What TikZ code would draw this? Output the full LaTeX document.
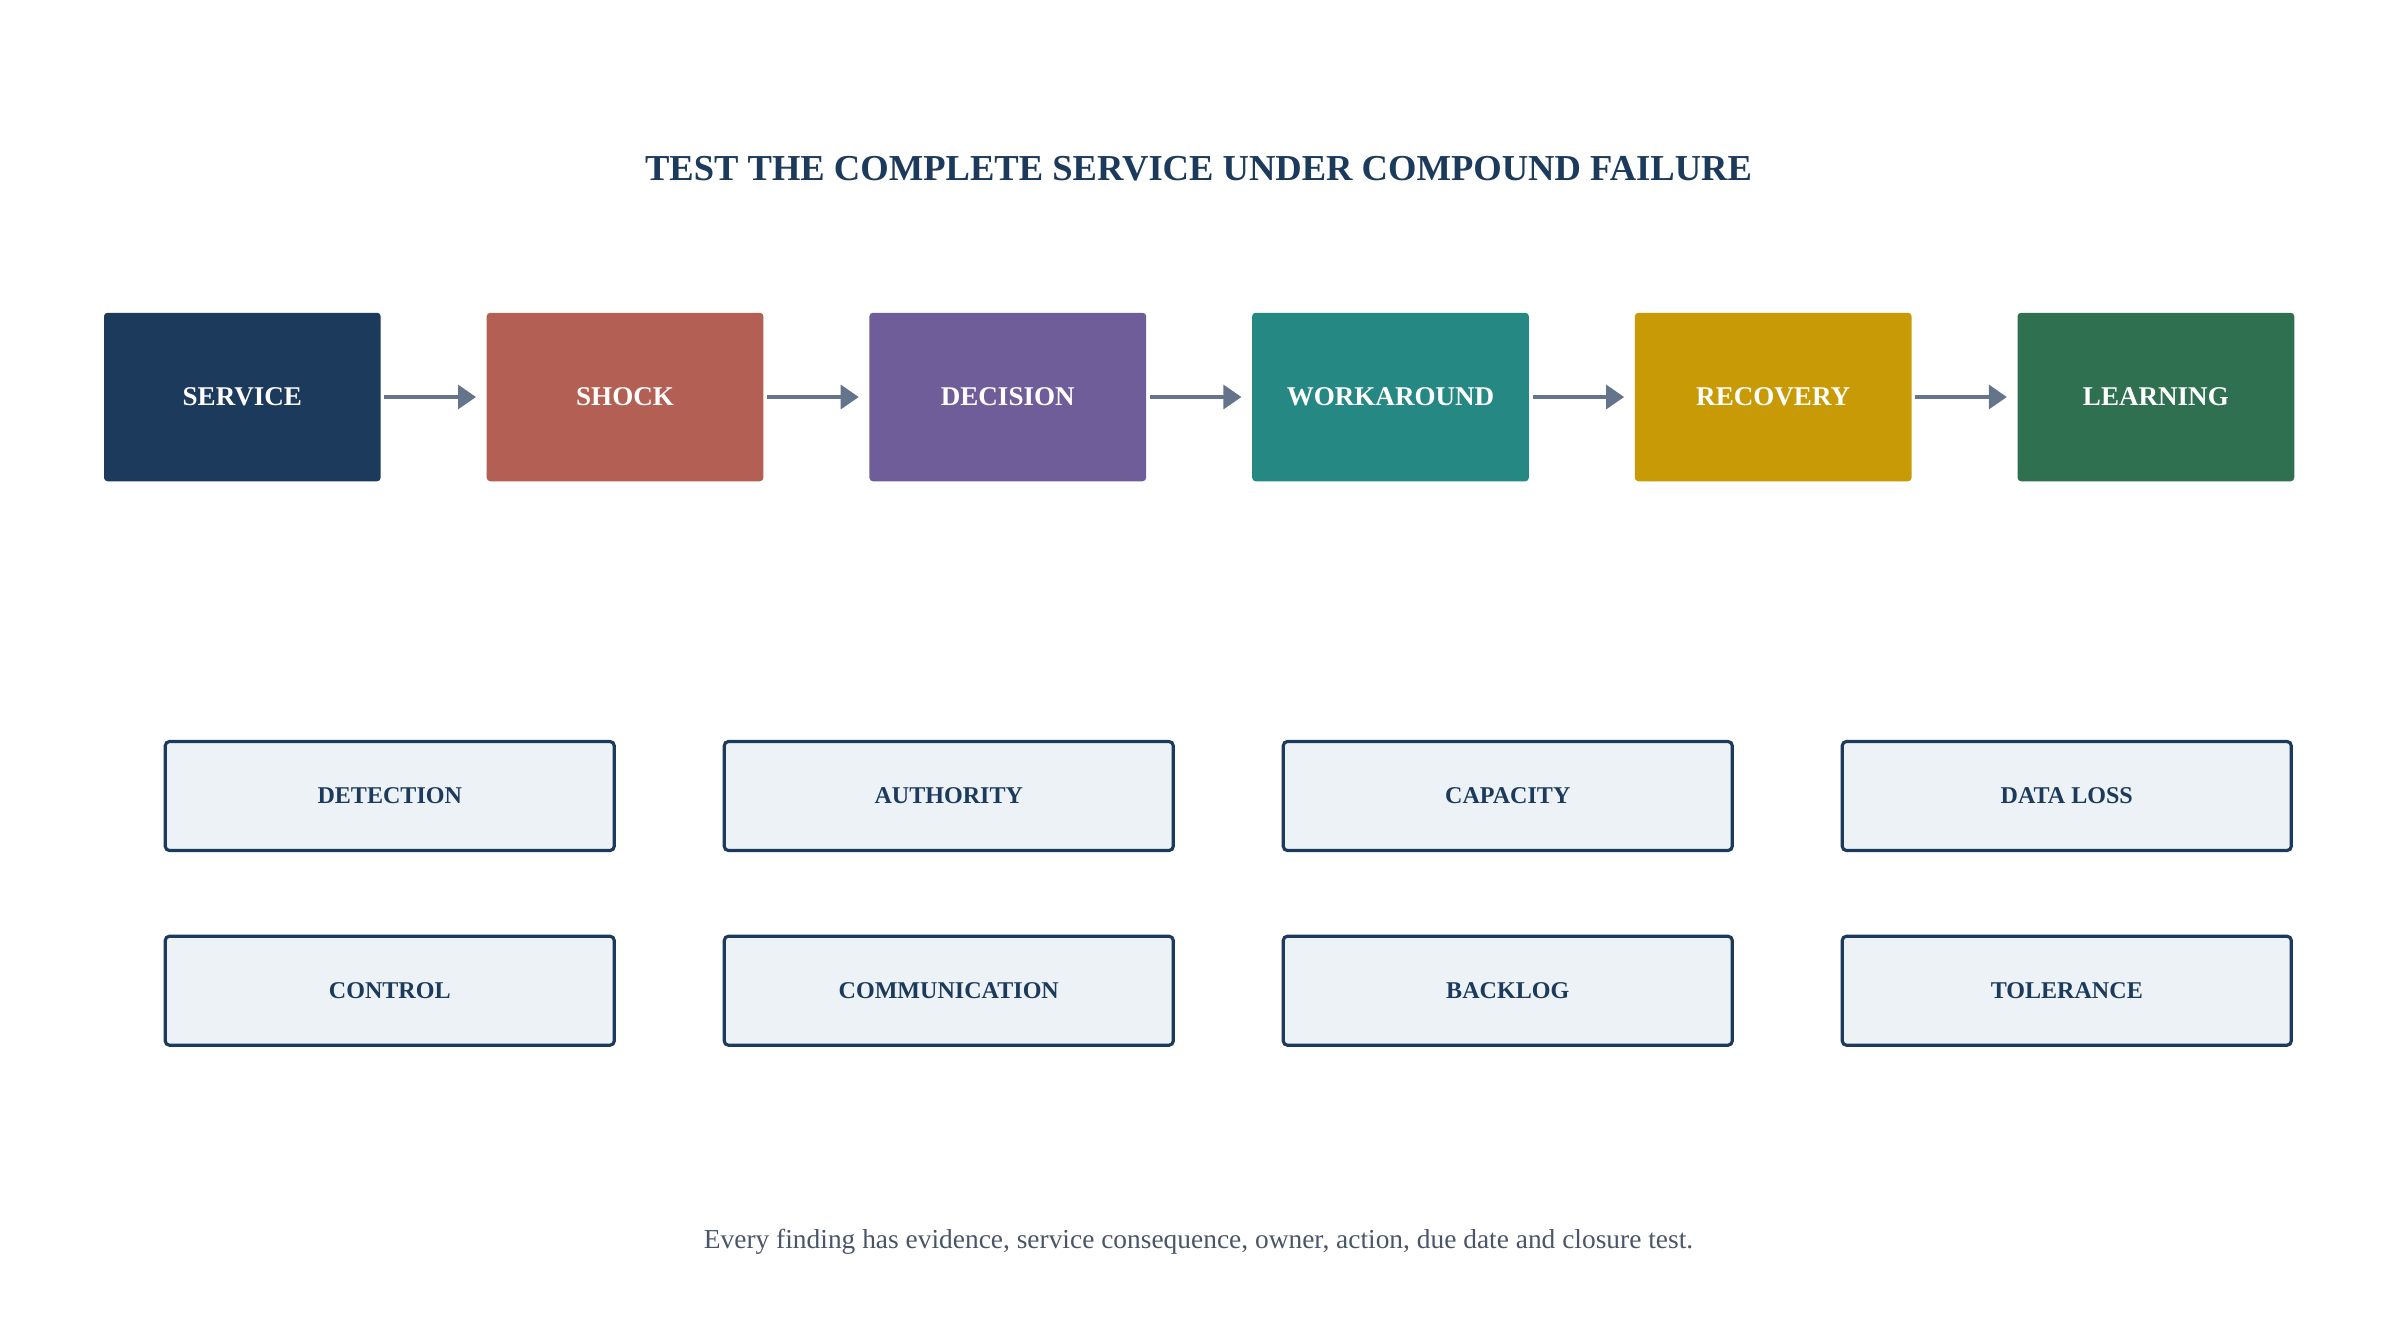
\documentclass[tikz,border=0pt]{standalone}
\usepackage{fontspec}
\setmainfont{Liberation Serif}
\usepackage{tikz}
\usetikzlibrary{arrows.meta, positioning}
\definecolor{navyMain}{HTML}{1B3A5C}
\definecolor{shockRed}{HTML}{B35F53}
\definecolor{decisionPurple}{HTML}{6F5D9A}
\definecolor{workTeal}{HTML}{258882}
\definecolor{recoveryGold}{HTML}{C89A06}
\definecolor{learnGreen}{HTML}{2E7050}
\definecolor{arrowSlate}{HTML}{64748B}
\definecolor{cardBg}{HTML}{EDF2F7}
\definecolor{footGray}{HTML}{4A5568}

\begin{document}
\begin{tikzpicture}[
    stage/.style={
        rounded corners=1pt, minimum width=2.767cm, minimum height=1.685cm,
        inner sep=0pt, text=white, font=\fontsize{7.7}{9}\selectfont\bfseries
    },
    card/.style={
        draw=navyMain, line width=0.9pt, rounded corners=1.2pt, fill=cardBg,
        minimum width=4.49cm, minimum height=1.09cm, inner sep=0pt,
        text=navyMain, font=\fontsize{6.85}{8}\selectfont\bfseries
    },
    flow/.style={draw=arrowSlate, line width=0.9pt,
        -{Triangle[length=0.18cm, width=0.24cm]},
        shorten <=0.03cm, shorten >=0.1cm},
    node distance=1.046cm,
]
    \useasboundingbox (0,0) rectangle (23.97,-13.42);

    % title
    \node[text=navyMain, font=\fontsize{10.4}{12}\selectfont\bfseries] (title) at (11.985,-1.685)
        {TEST THE COMPLETE SERVICE UNDER COMPOUND FAILURE};

    % chain of stages
    \node[stage, fill=navyMain] (service) at (2.4235,-3.97) {SERVICE};
    \node[stage, fill=shockRed, right=of service] (shock) {SHOCK};
    \node[stage, fill=decisionPurple, right=of shock] (decision) {DECISION};
    \node[stage, fill=workTeal, right=of decision] (workaround) {WORKAROUND};
    \node[stage, fill=recoveryGold, right=of workaround] (recovery) {RECOVERY};
    \node[stage, fill=learnGreen, right=of recovery] (learning) {LEARNING};

    \draw[flow] (service) -- (shock);
    \draw[flow] (shock) -- (decision);
    \draw[flow] (decision) -- (workaround);
    \draw[flow] (workaround) -- (recovery);
    \draw[flow] (recovery) -- (learning);

    % failure dimensions
    \node[card] (detection) at (3.8975,-7.96) {DETECTION};
    \node[card] (authority) at (9.4875,-7.96) {AUTHORITY};
    \node[card] (capacity) at (15.0775,-7.96) {CAPACITY};
    \node[card] (dataloss) at (20.6675,-7.96) {DATA LOSS};
    \node[card] (control) at (3.8975,-9.907) {CONTROL};
    \node[card] (communication) at (9.4875,-9.907) {COMMUNICATION};
    \node[card] (backlog) at (15.0775,-9.907) {BACKLOG};
    \node[card] (tolerance) at (20.6675,-9.907) {TOLERANCE};

    % footer
    \node[text=footGray, font=\fontsize{7.8}{9}\selectfont] (footnote) at (11.985,-12.42)
        {Every finding has evidence, service consequence, owner, action, due date and closure test.};
\end{tikzpicture}
\end{document}
